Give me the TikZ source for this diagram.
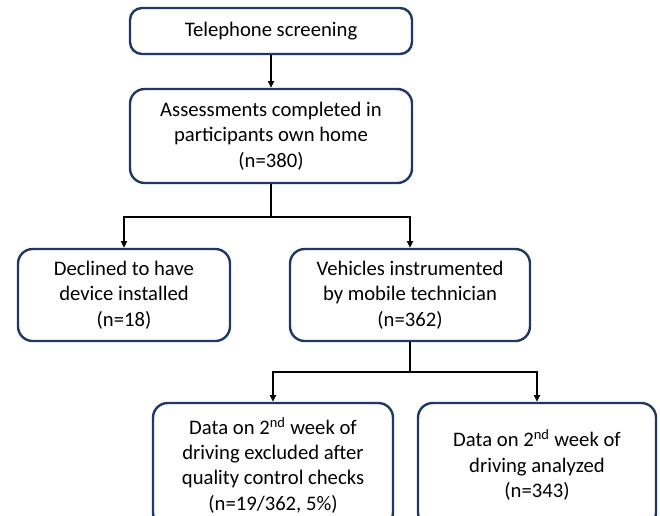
\documentclass[tikz,border=0pt]{standalone}
\usepackage{fontspec}
\setmainfont{Carlito}
\usetikzlibrary{arrows.meta}
\definecolor{boxblue}{HTML}{1F3864}
\begin{document}
\begin{tikzpicture}[x=0.75pt,y=-0.75pt,
  flowbox/.style={draw=boxblue, line width=1.8pt, rounded corners=11pt,
    align=center, inner sep=0pt, fill=white,
    font=\fontsize{15.5}{19}\selectfont},
  link/.style={line width=1.4pt, -{Triangle[length=5pt,width=4.5pt]}},
  trunk/.style={line width=1.4pt}]
\useasboundingbox (0,0) rectangle (660,515);
\clip (0,0) rectangle (660,515);

% boxes
\node[flowbox, rounded corners=9pt, minimum width=211.5pt, minimum height=34.5pt] (screen) at (271,31)
  {Telephone screening};
\node[flowbox, minimum width=211.5pt, minimum height=70.5pt] (assess) at (271,136)
  {Assessments completed in\\participants own home\\(n=380)};
\node[flowbox, minimum width=159pt, minimum height=69pt] (declined) at (124,295)
  {Declined to have\\device installed\\(n=18)};
\node[flowbox, minimum width=180pt, minimum height=69pt] (vehicles) at (410,295)
  {Vehicles instrumented\\by mobile technician\\(n=362)};
\node[flowbox, minimum width=180pt, minimum height=93pt] (excluded) at (273,465)
  {Data on 2\textsuperscript{nd} week of\\driving excluded after\\quality control checks\\(n=19/362, 5\%)};
\node[flowbox, minimum width=178.5pt, minimum height=93pt] (analyzed) at (537,465)
  {Data on 2\textsuperscript{nd} week of\\driving analyzed\\(n=343)};

% connectors
\coordinate (split1) at (271,217);
\coordinate (split2) at (410,372);
\draw[link] (screen.south) -- (assess.north);
\draw[trunk] (assess.south) -- (split1);
\draw[link] (split1) -| (declined.north);
\draw[link] (split1) -| (vehicles.north);
\draw[trunk] (vehicles.south) -- (split2);
\draw[link] (split2) -| (excluded.north);
\draw[link] (split2) -| (analyzed.north);
\end{tikzpicture}
\end{document}
